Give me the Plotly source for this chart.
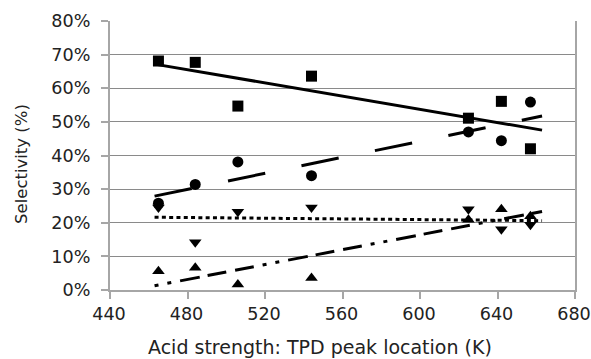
import numpy as np
import plotly.graph_objects as go

# ---- data ----
temps_K = [465, 484, 506, 544, 625, 642, 657]
sel_square = [68.1, 67.7, 54.7, 63.6, 51.1, 56.1, 42.0]
sel_circle = [25.8, 31.4, 38.1, 34.0, 47.0, 44.4, 55.9]
sel_tri_down = [24.5, 14.2, 23.3, 24.5, 24.0, 18.1, 19.4]
sel_tri_up = [5.6, 6.6, 1.6, 3.6, 20.9, 24.0, 21.9]

x_ticks = [440, 480, 520, 560, 600, 640, 680]
y_ticks = [0, 10, 20, 30, 40, 50, 60, 70, 80]

x_title = "Acid strength: TPD peak location (K)"
y_title = "Selectivity (%)"

trend_backward = 2
trend_forward = 6

series = [
    (sel_square, "square", 11, "solid"),
    (sel_circle, "circle", 11, "38px,37px"),
    (sel_tri_down, "triangle-down", 11, "4px,3.3px"),
    (sel_tri_up, "triangle-up", 11, "4px,9px,4px,9px,20px,8px,19px,9px,19px,9px"),
]

fig = go.Figure()
xs = np.array(temps_K, dtype=float)
x_tr = np.array([xs.min() - trend_backward, xs.max() + trend_forward])

for vals, sym, size, dash in series:
    ys = np.array(vals) / 100.0
    m, b = np.polyfit(xs, ys, 1)
    fig.add_trace(go.Scatter(
        x=x_tr, y=m * x_tr + b, mode="lines",
        line=dict(color="black", width=3, dash=dash),
        showlegend=False, hoverinfo="skip"))

for vals, sym, size, dash in series:
    fig.add_trace(go.Scatter(
        x=temps_K, y=[v / 100.0 for v in vals], mode="markers",
        marker=dict(symbol=sym, size=size, color="black", line=dict(width=0)),
        showlegend=False))

xtitle_font = dict(family="DejaVu Sans", size=19, color="#222")
ytitle_font = dict(family="DejaVu Sans", size=16.5, color="#222")
tick_font = dict(family="DejaVu Sans", size=17.6, color="#222")

# body margin is removed by the post script, so figure = full window
OFF = 0
W, H = 591 - OFF, 359 - OFF
plot_l, plot_r, plot_t, plot_b = 110, 575, 20.5, 290.5   # page px
ML, MR = plot_l - OFF, W - (plot_r - OFF)
MT, MB = plot_t - OFF, H - (plot_b - OFF)
PW, PH = W - ML - MR, H - MT - MB

def px_to_paper_x(px):
    return (px - plot_l) / PW

def py_to_paper_y(py):
    return (plot_b - py) / PH

fig.update_layout(
    width=W, height=H,
    margin=dict(l=ML, r=MR, t=MT, b=MB, autoexpand=False),
    paper_bgcolor="white", plot_bgcolor="white",
    font=tick_font,
    xaxis=dict(
        range=[440, 680], tickvals=x_ticks, ticktext=[str(t) for t in x_ticks],
        showgrid=False, zeroline=False, automargin=False,
        showline=True, linecolor="#a6a6a6", linewidth=2,
        ticks="outside", ticklen=7, tickwidth=2, tickcolor="#a6a6a6",
        ticklabeloverflow="allow", ticklabelshift=-1,
        tickfont=tick_font,
    ),
    yaxis=dict(
        range=[0, 0.8], tickvals=[t / 100 for t in y_ticks],
        ticktext=[f"{t}%" for t in y_ticks],
        showgrid=True, gridcolor="#8a8a8a", gridwidth=1.2,
        zeroline=False, automargin=False,
        showline=True, linecolor="#a6a6a6", linewidth=2, mirror=True,
        ticks="outside", ticklen=7, tickwidth=2, tickcolor="#a6a6a6",
        ticklabelstandoff=7, ticklabeloverflow="allow",
        tickfont=tick_font,
    ),
    annotations=[
        dict(text=x_title, xref="paper", yref="paper",
             x=px_to_paper_x(320), y=py_to_paper_y(348),
             xanchor="center", yanchor="middle", showarrow=False,
             font=xtitle_font),
        dict(text=y_title, xref="paper", yref="paper",
             x=px_to_paper_x(22), y=py_to_paper_y(164),
             xanchor="center", yanchor="middle", showarrow=False,
             textangle=-90, font=ytitle_font),
    ],
)

fig.write_html(
    "out.html",
    config={"displayModeBar": False},
    post_script="document.body.style.margin='0';document.body.style.overflow='hidden';",
)
